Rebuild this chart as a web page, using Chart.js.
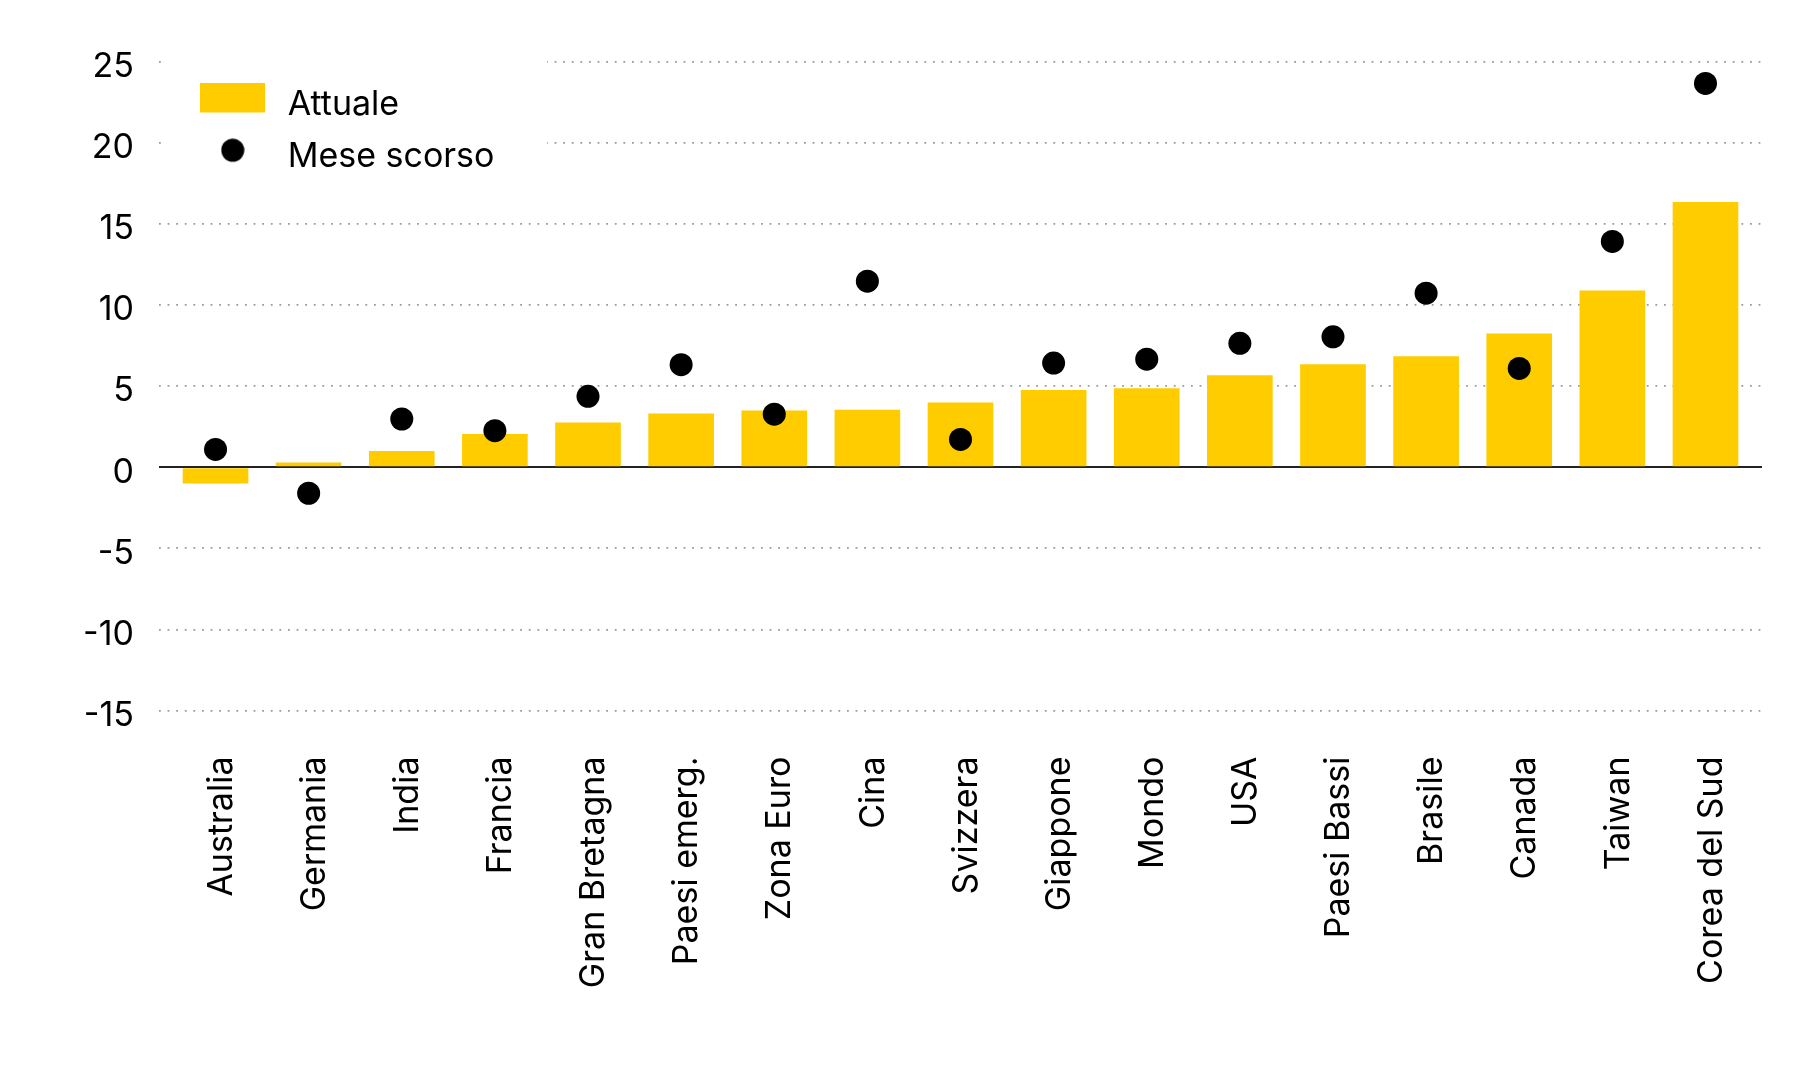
<!DOCTYPE html>
<html>
<head>
<meta charset="utf-8">
<script src="https://cdn.jsdelivr.net/npm/chart.js@4"></script>
<style>
  html, body { margin: 0; padding: 0; background: #ffffff; }
  #wrap { width: 1800px; height: 1080px; }
</style>
</head>
<body>
<div id="wrap"><canvas id="c" width="1800" height="1080"></canvas></div>
<script>
// ---- data ----
const categories = ['Australia', 'Germania', 'India', 'Francia', 'Gran Bretagna', 'Paesi emerg.',
  'Zona Euro', 'Cina', 'Svizzera', 'Giappone', 'Mondo', 'USA', 'Paesi Bassi', 'Brasile',
  'Canada', 'Taiwan', 'Corea del Sud'];
const attuale = [-1.0, 0.3, 1.0, 2.05, 2.77, 3.32, 3.5, 3.55, 4.0, 4.77, 4.88, 5.68, 6.35, 6.85, 8.25, 10.9, 16.37];
const meseScorso = [1.1, -1.6, 2.98, 2.26, 4.38, 6.33, 3.28, 11.48, 1.72, 6.43, 6.67, 7.65, 8.05, 10.74, 6.1, 13.93, 23.68];
const yTicks = [-15, -10, -5, 0, 5, 10, 15, 20, 25];
const seriesNames = ['Attuale', 'Mese scorso'];

// ---- style ----
const FONT = 'Inter';
const FS = 34;
const barColor = '#FFCC00';
const dotColor = '#000000';

function rectIcon() {
  const c = document.createElement('canvas');
  c.width = 65; c.height = 44;
  const g = c.getContext('2d');
  g.fillStyle = barColor;
  g.fillRect(0, 0, 65, 30);
  return c;
}
function dotIcon() {
  const c = document.createElement('canvas');
  c.width = 24; c.height = 38;
  const g = c.getContext('2d');
  g.fillStyle = dotColor;
  g.beginPath(); g.arc(12, 12, 11.5, 0, Math.PI * 2); g.fill();
  return c;
}

const legendPlugin = {
  id: 'legendPlace',
  afterLayout(chart) {
    const lg = chart.legend, ca = chart.chartArea;
    if (!lg) return;
    lg.left = ca.left + 17;
    lg.top = ca.top + 6.8;
    lg.right = lg.left + 420;
    lg.bottom = lg.top + 140;
  },
  afterDatasetsDraw(chart) {
    const ctx = chart.ctx, ca = chart.chartArea;
    ctx.save();
    ctx.fillStyle = '#ffffff';
    ctx.fillRect(ca.left + 2, ca.top - 5, 386, 112);
    ctx.restore();
    chart.legend.draw();
  }
};

function build() {
  const icons = [rectIcon(), dotIcon()];
  new Chart(document.getElementById('c'), {
    type: 'bar',
    data: {
      datasets: [
        {
          label: seriesNames[0],
          data: attuale.map((v, i) => ({ x: i, y: v })),
          backgroundColor: barColor,
          borderWidth: 0,
          categoryPercentage: 1,
          barPercentage: 0.705,
          order: 2
        },
        {
          type: 'line',
          label: seriesNames[1],
          data: meseScorso.map((v, i) => ({ x: i, y: v })),
          showLine: false,
          pointRadius: 11.5,
          pointHoverRadius: 11.5,
          pointBackgroundColor: dotColor,
          pointBorderWidth: 0,
          borderColor: dotColor,
          order: 1
        }
      ]
    },
    options: {
      responsive: false,
      devicePixelRatio: 1,
      animation: false,
      events: [],
      layout: { padding: { top: 62, right: 38, bottom: 0, left: 0 } },
      plugins: {
        tooltip: { enabled: false },
        legend: {
          display: true,
          position: 'chartArea',
          align: 'start',
          labels: {
            usePointStyle: true,
            pointStyleWidth: 76,
            boxHeight: FS,
            padding: 18.7,
            color: '#000000',
            font: { family: FONT, size: FS },
            generateLabels(chart) {
              return chart.data.datasets.map((ds, i) => ({
                text: ds.label,
                datasetIndex: i,
                pointStyle: icons[i],
                fillStyle: i === 0 ? barColor : dotColor,
                strokeStyle: 'transparent',
                lineWidth: 0,
                hidden: false,
                fontColor: '#000000'
              }));
            }
          }
        }
      },
      scales: {
        x: {
          type: 'linear',
          min: -0.607,
          max: 16.607,
          offset: false,
          grid: { display: false, drawTicks: false, offset: false },
          border: { display: false },
          afterFit(s) { s.height = 1080 - 710.5; },
          ticks: {
            stepSize: 1,
            includeBounds: false,
            autoSkip: false,
            minRotation: 90,
            maxRotation: 90,
            padding: 46,
            labelOffset: 6,
            color: '#000000',
            font: { family: FONT, size: FS },
            callback: (v) => (Number.isInteger(v) && categories[v] !== undefined) ? categories[v] : ''
          }
        },
        y: {
          min: yTicks[0],
          max: yTicks[yTicks.length - 1],
          afterBuildTicks(s) { s.ticks = yTicks.map(v => ({ value: v })); },
          afterFit(s) { s.width = 159; },
          grid: {
            drawTicks: false,
            color: (c) => c.tick && c.tick.value === 0 ? '#222222' : '#9a9a9a',
            lineWidth: (c) => c.tick && c.tick.value === 0 ? 2 : 1.8
          },
          border: {
            display: false,
            dash: (c) => c.tick && c.tick.value === 0 ? [] : [1.8, 6.8]
          },
          ticks: {
            padding: 25,
            labelOffset: 5,
            color: '#000000',
            font: { family: FONT, size: FS },
            callback: (v) => String(v).replace('\u2212', '-')
          }
        }
      }
    },
    plugins: [legendPlugin]
  });
}

if (document.fonts && document.fonts.load) {
  document.fonts.load(FS + 'px ' + FONT).then(build, build);
} else {
  build();
}
</script>
</body>
</html>
